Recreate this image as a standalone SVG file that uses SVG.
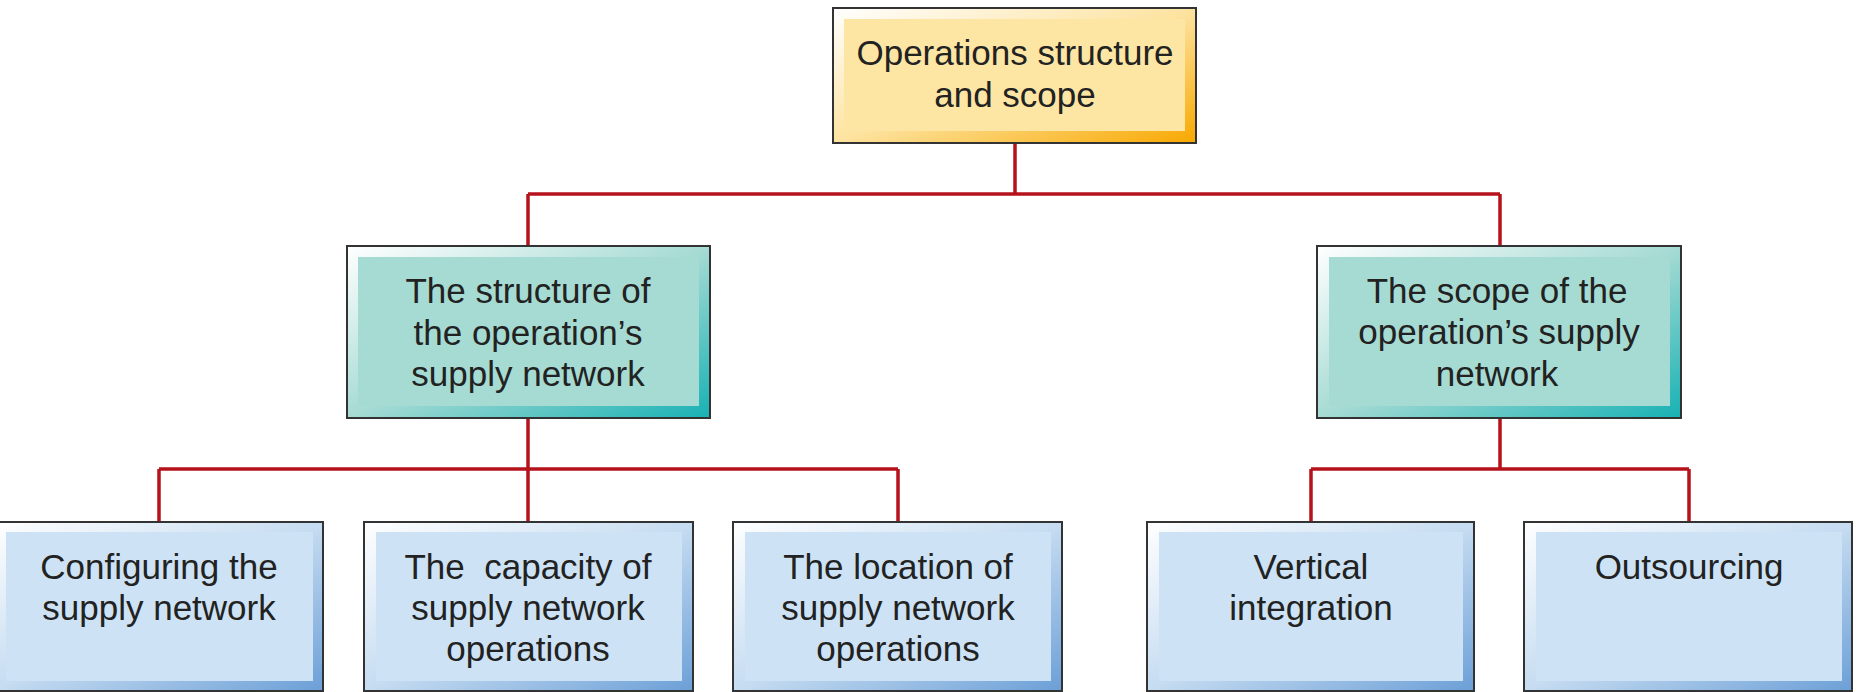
<svg xmlns="http://www.w3.org/2000/svg" width="1857" height="692" viewBox="0 0 1857 692">
  <defs>
    <linearGradient id="gY" x1="0" y1="0" x2="1" y2="1">
      <stop offset="0" stop-color="#ffffff"/>
      <stop offset="0.5" stop-color="#fde3a0"/>
      <stop offset="1" stop-color="#f8a800"/>
    </linearGradient>
    <linearGradient id="gT" x1="0" y1="0" x2="1" y2="1">
      <stop offset="0" stop-color="#ffffff"/>
      <stop offset="0.5" stop-color="#a6dbd4"/>
      <stop offset="1" stop-color="#18b1b4"/>
    </linearGradient>
    <linearGradient id="gB" x1="0" y1="0" x2="1" y2="1">
      <stop offset="0" stop-color="#ffffff"/>
      <stop offset="0.5" stop-color="#c6dcf1"/>
      <stop offset="1" stop-color="#6b9fd7"/>
    </linearGradient>
  </defs>
  <style>
    .frame { stroke: #333333; stroke-width: 2; }
    .fy { fill: url(#gY); }
    .ft { fill: url(#gT); }
    .fb { fill: url(#gB); }
    .iy { fill: #fde6a4; }
    .it { fill: #a6dbd3; }
    .ib { fill: #cde3f5; }
    .lbl { font-family: "Liberation Sans", Arial, sans-serif; font-size: 35px; fill: #222222; text-anchor: middle; }
    .conn { fill: none; stroke: #b5121b; stroke-width: 3.5; }
  </style>

  <g id="connectors">
    <path class="conn" d="M1015 143 V194 M528 194 H1500 M528 194 V246 M1500 194 V246"/>
    <path class="conn" d="M528 418 V469 M159 469 H898 M159 469 V522 M528 469 V522 M898 469 V522"/>
    <path class="conn" d="M1500 418 V469 M1311 469 H1689 M1311 469 V522 M1689 469 V522"/>
  </g>

  <g id="root">
    <rect class="frame fy" x="833" y="8" width="363" height="135"/>
    <rect class="iy" x="844" y="19" width="341" height="112"/>
    <text class="lbl" x="1015" y="65">Operations structure</text>
    <text class="lbl" x="1015" y="107">and scope</text>
  </g>

  <g id="structure">
    <rect class="frame ft" x="347" y="246" width="363" height="172"/>
    <rect class="it" x="358" y="257" width="341" height="149"/>
    <text class="lbl" x="528" y="303">The structure of</text>
    <text class="lbl" x="528" y="345">the operation’s</text>
    <text class="lbl" x="528" y="386">supply network</text>
  </g>

  <g id="scope">
    <rect class="frame ft" x="1317" y="246" width="364" height="172"/>
    <rect class="it" x="1329" y="257" width="341" height="149"/>
    <text class="lbl" x="1497" y="303">The scope of the</text>
    <text class="lbl" x="1499" y="344">operation’s supply</text>
    <text class="lbl" x="1497" y="386">network</text>
  </g>

  <g id="configuring">
    <rect class="frame fb" x="-6" y="522" width="329" height="169"/>
    <rect class="ib" x="6" y="532" width="307" height="149"/>
    <text class="lbl" x="159" y="579">Configuring the</text>
    <text class="lbl" x="159" y="620">supply network</text>
  </g>

  <g id="capacity">
    <rect class="frame fb" x="364" y="522" width="329" height="169"/>
    <rect class="ib" x="376" y="532" width="306" height="149"/>
    <text class="lbl" x="528" y="579" xml:space="preserve">The  capacity of</text>
    <text class="lbl" x="528" y="620">supply network</text>
    <text class="lbl" x="528" y="661">operations</text>
  </g>

  <g id="location">
    <rect class="frame fb" x="733" y="522" width="329" height="169"/>
    <rect class="ib" x="745" y="532" width="306" height="149"/>
    <text class="lbl" x="898" y="579">The location of</text>
    <text class="lbl" x="898" y="620">supply network</text>
    <text class="lbl" x="898" y="661">operations</text>
  </g>

  <g id="vertical">
    <rect class="frame fb" x="1147" y="522" width="327" height="169"/>
    <rect class="ib" x="1159" y="532" width="304" height="149"/>
    <text class="lbl" x="1311" y="579">Vertical</text>
    <text class="lbl" x="1311" y="620">integration</text>
  </g>

  <g id="outsourcing">
    <rect class="frame fb" x="1524" y="522" width="328" height="169"/>
    <rect class="ib" x="1536" y="532" width="306" height="149"/>
    <text class="lbl" x="1689" y="579">Outsourcing</text>
  </g>
</svg>
